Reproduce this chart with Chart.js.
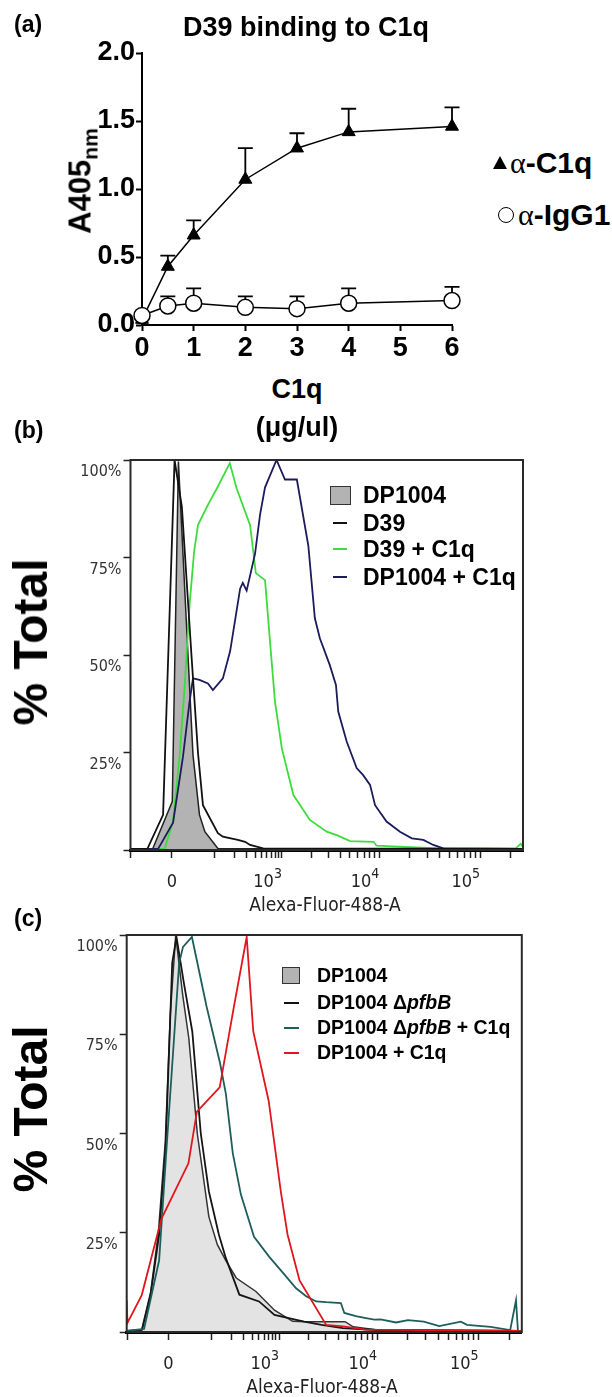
<!DOCTYPE html>
<html>
<head>
<meta charset="utf-8">
<title>D39 binding to C1q</title>
<script src="https://cdn.jsdelivr.net/npm/chart.js@4.4.1/dist/chart.umd.min.js"></script>
<style>
  html, body { margin: 0; padding: 0; background: #fff; }
  #page { position: relative; width: 612px; height: 1397px; overflow: hidden;
          font-family: "Liberation Sans", Arial, sans-serif; color: #000; }
  canvas { position: absolute; left: 0; }
  .t { position: absolute; white-space: nowrap; line-height: 1; }
  .b { font-weight: bold; }
  .ctr { transform: translate(-50%, -50%); }
  .lc { transform: translateY(-50%); }
  .rot { transform: translate(-50%, -50%) rotate(-90deg); }
  .flow { font-family: "DejaVu Sans Condensed", "DejaVu Sans", sans-serif; color: #222; font-size: 19px; }
  .sw { position: absolute; box-sizing: border-box; }
  .ln { position: absolute; height: 2px; }
  .greek { font-family: "Liberation Serif", serif; font-weight: normal; }
</style>
</head>
<body>
<div id="page">
  <canvas id="chartA" width="480" height="370" style="top:0"></canvas>
  <canvas id="chartB" width="612" height="460" style="top:440px"></canvas>
  <canvas id="chartC" width="612" height="470" style="top:915px"></canvas>

  <!-- (a) -->
  <div class="t b lc" style="left:14px;top:24px;font-size:23px">(a)</div>
  <div class="t b ctr" style="left:306px;top:27px;font-size:27px">D39 binding to C1q</div>
  <div class="t b rot" style="left:80px;top:181px;font-size:31px">A405<span style="font-size:21px;position:relative;top:7px">nm</span></div>
  <div class="t b ctr" style="left:297px;top:389px;font-size:27px">C1q</div>
  <div class="t b ctr" style="left:297px;top:427px;font-size:27px">(μg/ul)</div>
  <div class="sw" style="left:493px;top:156px;width:0;height:0;border-left:7px solid transparent;border-right:7px solid transparent;border-bottom:13px solid #000"></div>
  <div class="t b lc" style="left:510px;top:163px;font-size:30px"><span class="greek">α</span>-C1q</div>
  <div class="sw" style="left:498px;top:207px;width:16px;height:16px;border:1.5px solid #000;border-radius:50%;background:#fff"></div>
  <div class="t b lc" style="left:518px;top:215px;font-size:30px"><span class="greek">α</span>-IgG1</div>

  <!-- (b) -->
  <div class="t b lc" style="left:14px;top:430px;font-size:23px">(b)</div>
  <div class="t b rot" style="left:31px;top:642px;font-size:48px">% Total</div>
  <div class="sw" style="left:329.5px;top:485.5px;width:21px;height:19px;background:#b3b3b3;border:1.5px solid #333"></div>
  <div class="t b lc" style="left:363px;top:495px;font-size:23px">DP1004</div>
  <div class="ln" style="left:333px;top:522px;width:14px;background:#111"></div>
  <div class="t b lc" style="left:363px;top:523px;font-size:23px">D39</div>
  <div class="ln" style="left:333px;top:548px;width:14px;background:#3ddc3d"></div>
  <div class="t b lc" style="left:363px;top:549px;font-size:23px">D39 + C1q</div>
  <div class="ln" style="left:333px;top:576px;width:14px;background:#1c1c5c"></div>
  <div class="t b lc" style="left:363px;top:577px;font-size:23px">DP1004 + C1q</div>
  <div class="t flow ctr" style="left:325px;top:904px">Alexa-Fluor-488-A</div>

  <!-- (c) -->
  <div class="t b lc" style="left:14px;top:918px;font-size:23px">(c)</div>
  <div class="t b rot" style="left:31px;top:1109px;font-size:48px">% Total</div>
  <div class="sw" style="left:282px;top:967px;width:18px;height:17px;background:#b3b3b3;border:1.5px solid #333"></div>
  <div class="t b lc" style="left:317px;top:976px;font-size:19.5px">DP1004</div>
  <div class="ln" style="left:284px;top:1002px;width:15px;background:#111"></div>
  <div class="t b lc" style="left:317px;top:1003px;font-size:19.5px">DP1004 Δ<i>pfbB</i></div>
  <div class="ln" style="left:284px;top:1027px;width:15px;background:#1d5e5b"></div>
  <div class="t b lc" style="left:317px;top:1028px;font-size:19.5px">DP1004 Δ<i>pfbB</i> + C1q</div>
  <div class="ln" style="left:284px;top:1052px;width:15px;background:#e0161c"></div>
  <div class="t b lc" style="left:317px;top:1053px;font-size:19.5px">DP1004 + C1q</div>
  <div class="t flow ctr" style="left:322px;top:1386px">Alexa-Fluor-488-A</div>
</div>

<script>
// ---- (a) ELISA: C1q binding, mean + upper error ----
const conc = [0, 0.5, 1, 2, 3, 4, 6];
const c1qMean = [0.04, 0.43, 0.66, 1.07, 1.30, 1.42, 1.46];
const c1qErr = [0, 0.08, 0.11, 0.23, 0.11, 0.17, 0.14];
const iggMean = [0.07, 0.14, 0.16, 0.13, 0.12, 0.16, 0.18];
const iggErr = [0, 0.07, 0.11, 0.08, 0.09, 0.11, 0.10];
const aYTicks = [0, 0.5, 1, 1.5, 2];

// ---- flow histograms: x = display channel (0-1024), y = % of max ----
const bDP1004Ch = [0, 58, 109, 125, 150, 163, 180, 194, 228, 1024];
const bDP1004Pct = [0.3, 0.3, 12.4, 99.6, 50, 24.4, 9, 4.7, 0.4, 0.3];
const bD39Ch = [0, 44, 85, 115, 134, 159, 176, 189, 228, 241, 280, 299, 312, 346, 1024];
const bD39Pct = [0.3, 0.3, 9, 100, 88, 50, 25, 11.5, 4.3, 3.4, 2.6, 2.1, 1.3, 0.4, 0.3];
const bD39C1qCh = [0, 89, 111, 128, 141, 154, 166, 176, 202, 228, 259, 277, 312, 327, 351, 364, 377, 395, 425, 468, 512, 538, 573, 634, 642, 712, 808, 1005, 1018, 1024];
const bD39C1qPct = [0.3, 0.3, 7.3, 24, 41.5, 62.8, 76.5, 83.3, 88.5, 93.2, 99.2, 92.7, 83.3, 71, 69.2, 53.4, 38, 26, 14.1, 7.7, 4.7, 3.8, 2.3, 2.1, 1.1, 0.8, 0.4, 0.4, 1.6, 0.8];
const bDP1004C1qCh = [0, 72, 111, 137, 154, 163, 180, 202, 215, 241, 260, 286, 293, 303, 325, 338, 351, 381, 403, 434, 464, 481, 494, 520, 536, 542, 564, 590, 607, 625, 638, 668, 703, 734, 764, 790, 816, 1024];
const bDP1004C1qPct = [0.3, 0.3, 7, 24, 38, 44, 43.6, 42.7, 41, 44, 51, 67, 68.5, 66.5, 76, 86, 93, 100, 95, 95, 78, 59.4, 54.3, 47.4, 42.3, 35.5, 27.8, 21, 19.2, 16.7, 11.5, 7.3, 4.7, 3, 2.6, 1.3, 0.4, 0.3];

const cDP1004Ch = [0, 38, 62, 82, 100, 113, 127, 145, 161, 183, 213, 235, 257, 284, 335, 383, 430, 465, 566, 587, 650, 1024];
const cDP1004Pct = [0.3, 0.3, 10, 25, 48, 80, 100, 85, 74, 50, 29, 22, 18, 13.6, 10.2, 5.5, 2.7, 2.6, 2.6, 1.3, 0.5, 0.3];
const cPfbBCh = [0, 40, 62, 84, 101, 118, 129, 148, 170, 192, 213, 239, 257, 292, 343, 383, 460, 505, 560, 650, 1024];
const cPfbBPct = [0.3, 0.6, 9.4, 24.5, 47, 93, 99.5, 88, 75.7, 50, 35.4, 24.5, 18.6, 9.4, 7.7, 4.3, 2.6, 1.8, 1, 0.5, 0.3];
const cPfbBC1qCh = [0, 45, 84, 101, 136, 146, 169, 207, 242, 257, 275, 296, 330, 369, 404, 439, 465, 491, 517, 555, 564, 594, 620, 642, 658, 698, 729, 770, 810, 866, 882, 943, 994, 1009, 1014, 1024];
const cPfbBC1qPct = [0.3, 0.8, 18, 43, 93, 97, 99.5, 82, 67.7, 60, 45, 34.6, 24, 19, 15, 11, 9, 7.7, 7.5, 7.3, 4.8, 4, 3.5, 3.1, 3.2, 2.4, 3, 2.6, 1.5, 2.6, 1.8, 1.3, 0.5, 8, 0.3, 0.3];
const cDP1004C1qCh = [0, 2, 39, 90, 160, 182, 241, 278, 311, 328, 368, 400, 417, 448, 517, 561, 620, 1024];
const cDP1004C1qPct = [8, 2.3, 9.3, 28.5, 42.5, 55.5, 61.6, 82, 99.5, 75.7, 58.2, 35, 24.5, 13, 1.8, 1.4, 0.6, 0.3];

// biexponential axis: channel of 0 and of each decade 10^2..10^5
const fluorZeroCh = 108;
const fluorDecadeCh = [219, 395, 649, 912];
const fluorMajorCh = [108, 395, 649, 912];
const fluorMajorBase = ['0', '10', '10', '10'];
const fluorMajorExp = ['', '3', '4', '5'];

const FLOW_FONT = '"DejaVu Sans Condensed", "DejaVu Sans", sans-serif';

function pairs(xs, ys) {
  return xs.map((x, i) => ({ x: x, y: ys[i] }));
}

// all tick marks on the fluorescence axis (edge, 0, decades and their minors)
function fluorTicks() {
  const out = [1, fluorZeroCh];
  for (let d = 0; d < fluorDecadeCh.length; d++) {
    out.push(fluorDecadeCh[d]);
    const next = fluorDecadeCh[d + 1];
    const span = next ? next - fluorDecadeCh[d] : fluorDecadeCh[d] - fluorDecadeCh[d - 1];
    const last = next ? 9 : 2;
    for (let m = 2; m <= last; m++) out.push(fluorDecadeCh[d] + Math.log10(m) * span);
  }
  return out;
}

const errorBars = {
  id: 'errorBars',
  beforeDatasetsDraw(chart) {
    const { ctx, scales: { x, y } } = chart;
    ctx.save();
    ctx.strokeStyle = '#000';
    ctx.lineWidth = 1.8;
    chart.data.datasets.forEach(ds => {
      ds.data.forEach((p, i) => {
        const e = ds.errUp[i];
        if (!e) return;
        const px = x.getPixelForValue(p.x);
        const top = y.getPixelForValue(p.y + e);
        ctx.beginPath();
        ctx.moveTo(px, y.getPixelForValue(p.y));
        ctx.lineTo(px, top);
        ctx.moveTo(px - 7.5, top);
        ctx.lineTo(px + 7.5, top);
        ctx.stroke();
      });
    });
    ctx.restore();
  }
};

const frameBox = {
  id: 'frameBox',
  afterDatasetsDraw(chart) {
    const a = chart.chartArea, ctx = chart.ctx;
    ctx.save();
    ctx.strokeStyle = '#2a2a2a';
    ctx.lineWidth = 2;
    ctx.strokeRect(a.left, a.top, a.right - a.left, a.bottom - a.top);
    ctx.restore();
  }
};

const fluorLabels = {
  id: 'fluorLabels',
  afterDraw(chart) {
    const x = chart.scales.x, ctx = chart.ctx;
    const yMid = x.top + 32;
    ctx.save();
    ctx.fillStyle = '#222';
    ctx.textBaseline = 'middle';
    fluorMajorCh.forEach((ch, i) => {
      const px = x.getPixelForValue(ch);
      const exp = fluorMajorExp[i];
      ctx.font = '18px ' + FLOW_FONT;
      if (!exp) {
        ctx.textAlign = 'center';
        ctx.fillText(fluorMajorBase[i], px, yMid);
        return;
      }
      ctx.font = '14px ' + FLOW_FONT;
      const ew = ctx.measureText(exp).width;
      ctx.textAlign = 'left';
      ctx.fillText(exp, px - ew, yMid - 8);
      ctx.font = '18px ' + FLOW_FONT;
      ctx.textAlign = 'right';
      ctx.fillText(fluorMajorBase[i], px - ew, yMid);
    });
    ctx.restore();
  }
};

// ---- (a) ----
new Chart(document.getElementById('chartA'), {
  type: 'line',
  data: {
    datasets: [
      {
        label: 'α-IgG1', data: pairs(conc, iggMean), errUp: iggErr, order: 0,
        borderColor: '#000', borderWidth: 1.5, clip: false,
        pointStyle: 'circle', pointRadius: 8, pointBackgroundColor: '#fff',
        pointBorderColor: '#000', pointBorderWidth: 1.5
      },
      {
        label: 'α-C1q', data: pairs(conc, c1qMean), errUp: c1qErr, order: 1,
        borderColor: '#000', borderWidth: 1.5, clip: false,
        pointStyle: 'triangle', pointRadius: 7.5, pointBackgroundColor: '#000',
        pointBorderColor: '#000', pointBorderWidth: 1
      }
    ]
  },
  options: {
    responsive: false, animation: false, events: [],
    layout: { padding: { top: 53, right: 28, left: 0, bottom: 0 } },
    plugins: { legend: { display: false }, tooltip: { enabled: false } },
    elements: { line: { tension: 0 } },
    scales: {
      x: {
        type: 'linear', min: 0, max: 6, bounds: 'data',
        afterFit(s) { s.height = 45; },
        ticks: { stepSize: 1, padding: 1, color: '#000', font: { family: '"Liberation Sans", Arial', size: 27, weight: 'bold' } },
        grid: { drawOnChartArea: false, tickLength: 6, tickWidth: 2, tickColor: '#000' },
        border: { color: '#000', width: 2 }
      },
      y: {
        min: 0, max: 2, bounds: 'data',
        afterFit(s) { s.width = 142; },
        afterBuildTicks(s) { s.ticks = aYTicks.map(v => ({ value: v })); },
        ticks: { callback: v => v.toFixed(1), padding: 1, color: '#000', font: { family: '"Liberation Sans", Arial', size: 27, weight: 'bold' } },
        grid: { drawOnChartArea: false, tickLength: 6, tickWidth: 2, tickColor: '#000' },
        border: { color: '#000', width: 2 }
      }
    }
  },
  plugins: [errorBars]
});

// ---- (b), (c) ----
function histogram(id, yAxisWidth, rightPad, xAxisHeight, sets) {
  return new Chart(document.getElementById(id), {
    type: 'line',
    data: { datasets: sets },
    options: {
      responsive: false, animation: false, events: [],
      layout: { padding: { top: 20, right: rightPad, left: 0, bottom: 0 } },
      plugins: { legend: { display: false }, tooltip: { enabled: false } },
      elements: { point: { radius: 0 }, line: { tension: 0 } },
      scales: {
        x: {
          type: 'linear', min: 0, max: 1024, bounds: 'data',
          afterFit(s) { s.height = xAxisHeight; },
          afterBuildTicks(s) { s.ticks = fluorTicks().map(v => ({ value: v })); },
          ticks: { display: false },
          grid: { drawOnChartArea: false, tickLength: 8, tickWidth: 1.5, tickColor: '#222' },
          border: { color: '#000', width: 3 }
        },
        y: {
          min: 0, max: 100, bounds: 'data',
          afterFit(s) { s.width = yAxisWidth; },
          ticks: { stepSize: 25, callback: v => (v === 0 ? '' : v + '%'), labelOffset: 12, padding: 2, color: '#333', font: { family: FLOW_FONT, size: 16 } },
          grid: { drawOnChartArea: false, tickLength: 7, tickWidth: 1.5, tickColor: '#222' },
          border: { display: false }
        }
      }
    },
    plugins: [frameBox, fluorLabels]
  });
}

histogram('chartB', 130.5, 89, 50, [
  { label: 'DP1004', data: pairs(bDP1004Ch, bDP1004Pct), order: 10, fill: 'origin',
    backgroundColor: '#b3b3b3', borderColor: '#222', borderWidth: 1.5 },
  { label: 'D39', data: pairs(bD39Ch, bD39Pct), order: 1, fill: false,
    borderColor: '#111', borderWidth: 1.8 },
  { label: 'D39 + C1q', data: pairs(bD39C1qCh, bD39C1qPct), order: 3, fill: false,
    borderColor: '#3ddc3d', borderWidth: 1.8 },
  { label: 'DP1004 + C1q', data: pairs(bDP1004C1qCh, bDP1004C1qPct), order: 2, fill: false,
    borderColor: '#1c1c5c', borderWidth: 1.8 }
]);

histogram('chartC', 126.7, 90.2, 53, [
  { label: 'DP1004', data: pairs(cDP1004Ch, cDP1004Pct), order: 10, fill: 'origin',
    backgroundColor: '#e3e3e3', borderColor: '#333', borderWidth: 1.5 },
  { label: 'DP1004 ΔpfbB', data: pairs(cPfbBCh, cPfbBPct), order: 3, fill: false,
    borderColor: '#151515', borderWidth: 1.8 },
  { label: 'DP1004 ΔpfbB + C1q', data: pairs(cPfbBC1qCh, cPfbBC1qPct), order: 2, fill: false,
    borderColor: '#1d5e5b', borderWidth: 1.8 },
  { label: 'DP1004 + C1q', data: pairs(cDP1004C1qCh, cDP1004C1qPct), order: 1, fill: false,
    borderColor: '#e0161c', borderWidth: 1.8 }
]);
</script>
</body>
</html>
